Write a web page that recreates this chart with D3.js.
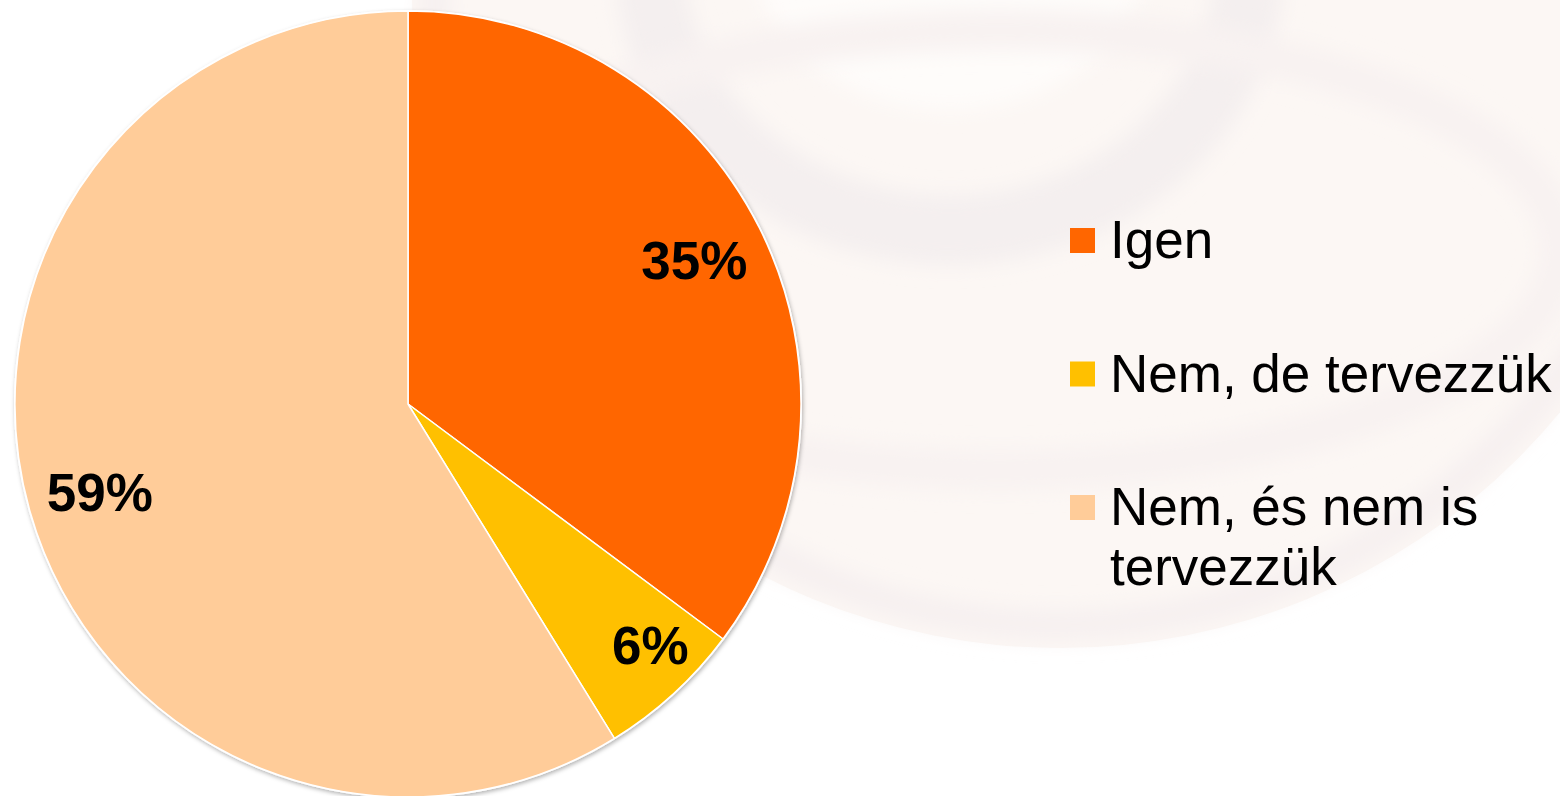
<!DOCTYPE html>
<html>
<head>
<meta charset="utf-8">
<script src="https://cdn.jsdelivr.net/npm/d3@7"></script>
<style>
  html, body { margin: 0; padding: 0; background: #ffffff; }
  svg { display: block; }
</style>
</head>
<body>
<div id="chart"></div>
<script>
// data
var categories = ["Igen", "Nem, de tervezzük", "Nem, és nem is tervezzük"];
var values = [35.2, 6.0, 58.8];
var legendLines = [["Igen"], ["Nem, de tervezzük"], ["Nem, és nem is", "tervezzük"]];
var colors = ["#FF6600", "#FFC000", "#FFCC99"];

var width = 1560, height = 796;
var cx = 408, cy = 404, radius = 393;
var fmt = function(v) { return Math.round(v) + '%'; };

var svg = d3.select('#chart').append('svg')
  .attr('width', width)
  .attr('height', height);

var defs = svg.append('defs');
var shadow = defs.append('filter').attr('id', 'shadow')
  .attr('x', '-10%').attr('y', '-10%').attr('width', '120%').attr('height', '120%');
shadow.append('feDropShadow')
  .attr('dx', 1).attr('dy', 2).attr('stdDeviation', 2)
  .attr('flood-color', '#000').attr('flood-opacity', 0.3);
var blur = defs.append('filter').attr('id', 'soft')
  .attr('x', '-20%').attr('y', '-20%').attr('width', '140%').attr('height', '140%');
blur.append('feGaussianBlur').attr('stdDeviation', 10);

// faint background swirl (slide decoration)
var bg = svg.append('g');
bg.append('circle').attr('cx', 1060).attr('cy', 0).attr('r', 648).attr('fill', '#fcf7f4');
bg.append('circle').attr('cx', 1060).attr('cy', 0).attr('r', 625)
  .attr('fill', 'none').attr('stroke', '#f6f0f0').attr('stroke-width', 30)
  .attr('filter', 'url(#soft)');
bg.append('ellipse').attr('cx', 950).attr('cy', -40).attr('rx', 300).attr('ry', 270)
  .attr('fill', 'none').attr('stroke', '#f4efef').attr('stroke-width', 70)
  .attr('filter', 'url(#soft)');
bg.append('ellipse').attr('cx', 950).attr('cy', -60).attr('rx', 200).attr('ry', 170)
  .attr('fill', '#fefcfa').attr('filter', 'url(#soft)');
bg.append('ellipse').attr('cx', 1000).attr('cy', 250).attr('rx', 560).attr('ry', 220)
  .attr('fill', 'none').attr('stroke', '#f8f2f1').attr('stroke-width', 40)
  .attr('filter', 'url(#soft)');

// pie
var pie = d3.pie().sort(null).value(function(d) { return d; });
var arcs = pie(values);
var arc = d3.arc().innerRadius(0).outerRadius(radius);
var labelArc = d3.arc().innerRadius(radius * 0.815).outerRadius(radius * 0.815);
var smallArc = d3.arc().innerRadius(radius * 0.86).outerRadius(radius * 0.86);

var g = svg.append('g').attr('transform', 'translate(' + cx + ',' + cy + ')');

g.append('circle').attr('r', radius + 1).attr('fill', '#fff').attr('filter', 'url(#shadow)');

g.selectAll('path.slice').data(arcs).enter().append('path')
  .attr('class', 'slice')
  .attr('d', arc)
  .attr('fill', function(d, i) { return colors[i]; })
  .attr('stroke', '#ffffff')
  .attr('stroke-width', 1.5)
  .attr('stroke-linejoin', 'round');

g.selectAll('text.lbl').data(arcs).enter().append('text')
  .attr('class', 'lbl')
  .attr('transform', function(d) {
    var p = d.data < 10 ? smallArc.centroid(d) : labelArc.centroid(d);
    if (d.data < 10) p = [p[0] + 14, p[1] - 8];
    return 'translate(' + p + ')';
  })
  .attr('text-anchor', 'middle')
  .attr('dy', '0.36em')
  .style('font-family', 'Liberation Sans, Arial, sans-serif')
  .style('font-weight', 'bold')
  .style('font-size', '53px')
  .attr('fill', '#000')
  .text(function(d) { return fmt(d.data); });

// legend
var legendY = d3.scalePoint().domain(categories).range([258, 525]);
var legend = svg.append('g');
var items = legend.selectAll('g.item').data(categories).enter().append('g')
  .attr('class', 'item')
  .attr('transform', function(d) { return 'translate(0,' + legendY(d) + ')'; });

items.append('rect')
  .attr('x', 1070).attr('y', -30)
  .attr('width', 25).attr('height', 25)
  .attr('fill', function(d, i) { return colors[i]; });

items.append('text')
  .attr('x', 1110)
  .style('font-family', 'Liberation Sans, Arial, sans-serif')
  .style('font-size', '53px')
  .attr('fill', '#000')
  .selectAll('tspan')
  .data(function(d, i) { return legendLines[i]; })
  .enter().append('tspan')
  .attr('x', 1110)
  .attr('dy', function(d, j) { return j === 0 ? 0 : 60; })
  .text(function(d) { return d; });
</script>
</body>
</html>
